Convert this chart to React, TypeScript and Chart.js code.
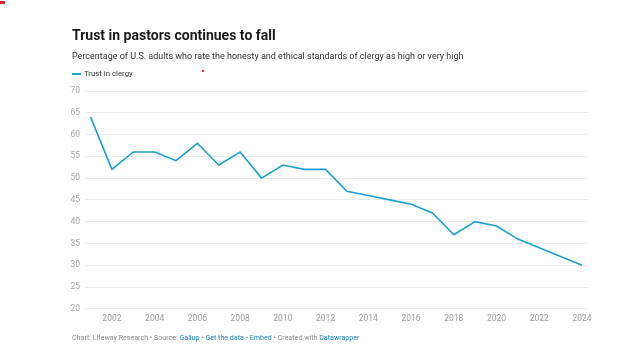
import React, { useEffect, useRef } from "react";
import { Chart, registerables } from "chart.js";

Chart.register(...registerables);

const years = [2001, 2002, 2003, 2004, 2005, 2006, 2007, 2008, 2009, 2010, 2011, 2012, 2013, 2014, 2015, 2016, 2017, 2018, 2019, 2020, 2021, 2022, 2023, 2024];
const trustInClergy = [64, 52, 56, 56, 54, 58, 53, 56, 50, 53, 52, 52, 47, 46, 45, 44, 42, 37, 40, 39, 36, 34, 32, 30];
const xTickYears = [2002, 2004, 2006, 2008, 2010, 2012, 2014, 2016, 2018, 2020, 2022, 2024];
const yTicks = [20, 25, 30, 35, 40, 45, 50, 55, 60, 65, 70];

const LINE = "#1aa0d2";
const FONT = "Roboto, 'Noto Sans', sans-serif";

export default function App() {
  const ref = useRef<HTMLCanvasElement | null>(null);

  useEffect(() => {
    if (!ref.current) return;
    const chart = new Chart(ref.current, {
      type: "line",
      data: {
        datasets: [
          {
            label: "Trust in clergy",
            data: years.map((y, i) => ({ x: y, y: trustInClergy[i] })),
            borderColor: LINE,
            backgroundColor: LINE,
            borderWidth: 1.6,
            pointRadius: 0,
            tension: 0,
          },
        ],
      },
      options: {
        animation: false,
        responsive: false,
        maintainAspectRatio: false,
        layout: { padding: { left: 56, right: 36, top: 91, bottom: 18 } },
        plugins: {
          legend: { display: false },
          tooltip: { enabled: false },
          title: { display: false },
        },
        scales: {
          x: {
            type: "linear",
            min: 2000.74,
            max: 2024.28,
            grid: { display: false, drawTicks: false },
            border: { display: false },
            afterBuildTicks: (s: any) => {
              s.ticks = xTickYears.map((v) => ({ value: v }));
            },
            ticks: {
              autoSkip: false,
              maxRotation: 0,
              padding: 5,
              color: "#9a9a9a",
              font: { family: FONT, size: 8.5 },
              callback: (v: any) => String(v),
            },
          },
          y: {
            type: "linear",
            min: 20,
            max: 70,
            afterBuildTicks: (s: any) => {
              s.ticks = yTicks.map((v) => ({ value: v }));
            },
            afterFit: (s: any) => {
              s.width = 29;
            },
            grid: { color: "#ebebeb", lineWidth: 1, drawTicks: false },
            border: { display: false },
            ticks: {
              padding: 5,
              color: "#a6a6a6",
              font: { family: FONT, size: 8.5 },
              callback: (v: any) => String(v),
            },
          },
        },
      },
    });
    return () => chart.destroy();
  }, []);

  return (
    <div
      style={{
        position: "fixed",
        left: 0,
        top: 0,
        width: 624,
        height: 347,
        background: "#fff",
        fontFamily: FONT,
        overflow: "hidden",
      }}
    >
      <canvas ref={ref} width={624} height={347} style={{ position: "absolute", left: 0, top: 0, width: 624, height: 347 }} />
      <div style={{ position: "absolute", left: 0, top: 1, width: 5, height: 3, background: "#e8262b" }} />
      <div style={{ position: "absolute", left: 202, top: 70, width: 2, height: 2, background: "#e8262b" }} />
      <div
        style={{
          position: "absolute",
          left: 72,
          top: 26,
          fontSize: 14,
          fontWeight: 700,
          color: "#1a1a1a",
          whiteSpace: "nowrap",
          lineHeight: "18px",
        }}
      >
        Trust in pastors continues to fall
      </div>
      <div
        style={{
          position: "absolute",
          left: 72,
          top: 50,
          fontSize: 9,
          color: "#333",
          whiteSpace: "nowrap",
          lineHeight: "12px",
        }}
      >
        Percentage of U.S. adults who rate the honesty and ethical standards of clergy as high or very high
      </div>
      <div
        style={{
          position: "absolute",
          left: 72,
          top: 68,
          fontSize: 7.8,
          color: "#333",
          whiteSpace: "nowrap",
          lineHeight: "12px",
          display: "flex",
          alignItems: "center",
        }}
      >
        <span style={{ display: "inline-block", width: 9, height: 2, background: LINE, marginRight: 3 }} />
        Trust in clergy
      </div>
      <div
        style={{
          position: "absolute",
          left: 72,
          top: 333,
          fontSize: 7.1,
          color: "#8a8a8a",
          whiteSpace: "nowrap",
          lineHeight: "10px",
        }}
      >
        Chart: Lifeway Research • Source: <span style={{ color: "#1b7fb5" }}>Gallup</span> •{" "}
        <span style={{ color: "#1b7fb5" }}>Get the data</span> • <span style={{ color: "#1b7fb5" }}>Embed</span> • Created with{" "}
        <span style={{ color: "#1b7fb5" }}>Datawrapper</span>
      </div>
    </div>
  );
}
